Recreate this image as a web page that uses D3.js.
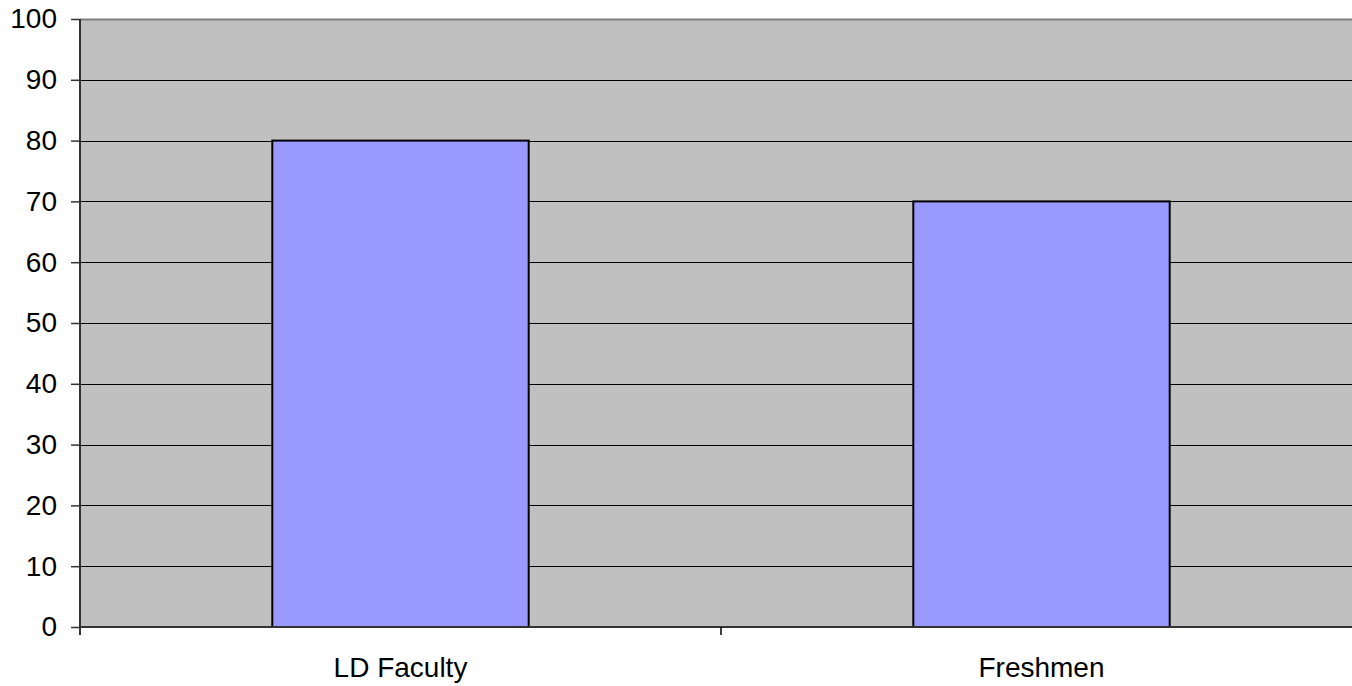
<!DOCTYPE html>
<html>
<head>
<meta charset="utf-8">
<script src="https://cdn.jsdelivr.net/npm/d3@7"></script>
<style>
  html, body { margin: 0; padding: 0; background: #fff; }
  svg { display: block; font-family: "Liberation Sans", Arial, sans-serif; }
</style>
</head>
<body>
<svg id="chart" width="1352" height="686"></svg>
<script>
const categories = ["LD Faculty", "Freshmen"];
const values = [80, 70];
const yTicks = [0, 10, 20, 30, 40, 50, 60, 70, 80, 90, 100];

const svg = d3.select("#chart");
const margin = { top: 19, left: 80, bottom: 59 };
const plotRight = 1362; // plot area runs past the window edge
const plotBottom = 686 - margin.bottom;
const fontSize = 28;

const x = d3.scaleBand()
  .domain(categories)
  .range([margin.left, plotRight])
  .paddingInner(0.6)
  .paddingOuter(0.3);

const y = d3.scaleLinear().domain([0, 100]).range([plotBottom, margin.top]);

// plot background
svg.append("rect")
  .attr("x", margin.left)
  .attr("y", margin.top)
  .attr("width", plotRight - margin.left)
  .attr("height", plotBottom - margin.top)
  .attr("fill", "#c0c0c0");

// top border
svg.append("line")
  .attr("x1", margin.left).attr("x2", plotRight)
  .attr("y1", margin.top + 0.5).attr("y2", margin.top + 0.5)
  .attr("stroke", "#808080").attr("stroke-width", 2);

// gridlines
svg.append("g")
  .selectAll("line")
  .data(yTicks.filter((d) => d > 0 && d < 100))
  .join("line")
  .attr("x1", margin.left).attr("x2", plotRight)
  .attr("y1", (d) => Math.round(y(d)) + 0.5)
  .attr("y2", (d) => Math.round(y(d)) + 0.5)
  .attr("stroke", "#000").attr("stroke-width", 1);

// bars
svg.append("g")
  .selectAll("rect")
  .data(values)
  .join("rect")
  .attr("x", (d, i) => x(categories[i]))
  .attr("y", (d) => y(d))
  .attr("width", x.bandwidth())
  .attr("height", (d) => plotBottom - y(d))
  .attr("fill", "#9999ff")
  .attr("stroke", "#000")
  .attr("stroke-width", 2);

// y axis
const yAxis = d3.axisLeft(y).tickValues(yTicks).tickSize(9).tickPadding(14);
const gy = svg.append("g")
  .attr("transform", `translate(${margin.left},0)`)
  .call(yAxis);
gy.select(".domain").attr("stroke", "#333").attr("stroke-width", 2)
  .attr("d", `M0,${margin.top}V${plotBottom + 8}`);
gy.selectAll(".tick line").attr("stroke", "#333").attr("stroke-width", 1.5);
gy.selectAll(".tick text").attr("font-size", fontSize).attr("fill", "#000")
  .attr("font-family", "Liberation Sans, Arial, sans-serif");

// x axis: tick marks on the boundaries between categories
const xBoundaries = categories.slice(1).map((c) => x(c) - (x.step() - x.bandwidth()) / 2);
svg.append("line")
  .attr("x1", margin.left).attr("x2", plotRight)
  .attr("y1", plotBottom).attr("y2", plotBottom)
  .attr("stroke", "#333").attr("stroke-width", 2);
svg.append("g")
  .selectAll("line")
  .data(xBoundaries)
  .join("line")
  .attr("x1", (d) => d).attr("x2", (d) => d)
  .attr("y1", plotBottom).attr("y2", plotBottom + 8)
  .attr("stroke", "#000").attr("stroke-width", 1.5);

svg.append("g")
  .selectAll("text")
  .data(categories)
  .join("text")
  .attr("x", (d) => x(d) + x.bandwidth() / 2)
  .attr("y", 677)
  .attr("text-anchor", "middle")
  .attr("font-size", fontSize)
  .attr("fill", "#000")
  .text((d) => d);
</script>
</body>
</html>
